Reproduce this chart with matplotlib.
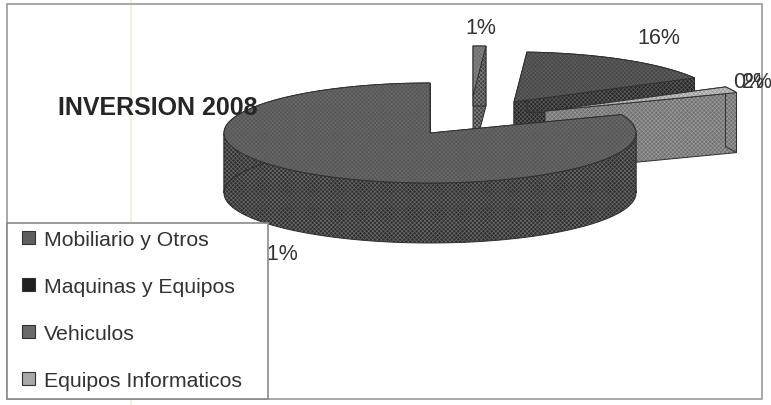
#!/usr/bin/env python3
"""Exploded pseudo-3D pie, INVERSION 2008 (scanned look)."""

import numpy as np
import matplotlib
matplotlib.use('Agg')
import matplotlib.pyplot as plt
from matplotlib.patches import Patch, Polygon, Rectangle

plt.rcParams['font.family'] = ['Liberation Sans', 'DejaVu Sans']
plt.rcParams['hatch.linewidth'] = 0.5

TITLE = 'INVERSION 2008'

# clockwise from twelve o'clock
slice_names = ['Mobiliario y Otros', 'Maquinas y Equipos', 'Equipos Informaticos', 'Vehiculos']
slice_values = [1, 16, 2, 81]

legend_order = ['Mobiliario y Otros', 'Maquinas y Equipos', 'Vehiculos', 'Equipos Informaticos']

# look of each slice: top colour, wall colour, hatch colour
top_colors = ['#6e6e6e', '#484848', '#c4c4c4', '#565656']
wall_colors = ['#404040', '#262626', '#707070', '#2e2e2e']
hatch_colors = ['#848484', '#5e5e5e', '#9a9a9a', '#6a6a6a']
legend_colors = {'Mobiliario y Otros': '#5f5f5f', 'Maquinas y Equipos': '#1f1f1f',
                 'Vehiculos': '#6a6a6a', 'Equipos Informaticos': '#a8a8a8'}

# exploded apex of each slice, in pixels
centers = [(473, 97), (514, 103), (545, 112), (430, 134)]
RX, RY, DEPTH = 206, 50, 60


def slice_arc(center, a0, a1, n=120):
    ang = np.radians(np.linspace(a0, a1, n))
    return np.column_stack([center[0] + RX * np.cos(ang), center[1] - RY * np.sin(ang)])


def face(ax, pts, fc, hc, z):
    ax.add_patch(Polygon(pts, closed=True, facecolor=fc, edgecolor=hc, hatch='xxxxxxxx',
                         linewidth=0, zorder=z))
    ax.add_patch(Polygon(pts, closed=True, fill=False, edgecolor='#303030', linewidth=0.7,
                         zorder=z))


fig = plt.figure(figsize=(7.71, 4.06), dpi=100)
ax = fig.add_axes([0, 0, 1, 1])
ax.set_xlim(0, 771)
ax.set_ylim(406, 0)
ax.axis('off')

# chart frame, plus the faint crease of the scan
ax.add_patch(Rectangle((7, 5), 755, 395, fill=False, edgecolor='#9a9a9a', linewidth=1.2, zorder=1))
ax.plot([131, 131], [0, 406], color='#f1f5d8', linewidth=1.5, zorder=0)

start = 90.0
shift = np.array([0, DEPTH])
for i, val in enumerate(slice_values):
    end = start - val * 3.6
    z = 2 + i
    c = np.array(centers[i], dtype=float)
    arc = slice_arc(c, start, end)
    # walls first, the top goes over them
    face(ax, [c, arc[0], arc[0] + shift, c + shift], wall_colors[i], hatch_colors[i], z)
    face(ax, [c, arc[-1], arc[-1] + shift, c + shift], wall_colors[i], hatch_colors[i], z)
    # outer wall in pieces split at the ellipse extremes, so no polygon crosses itself
    cuts = [a for a in (0, -180) if end < a < start]
    edges = [start] + cuts + [end]
    for a0, a1 in zip(edges[:-1], edges[1:]):
        piece = slice_arc(c, a0, a1)
        face(ax, np.vstack([piece, (piece + shift)[::-1]]), wall_colors[i], hatch_colors[i], z)
    face(ax, np.vstack([c, arc]), top_colors[i], hatch_colors[i], z)
    start = end

# labels
ax.text(481, 28, '1%', fontsize=15.5, color='#333333', ha='center', va='center', zorder=8)
ax.text(659, 38, '16%', fontsize=15.5, color='#333333', ha='center', va='center', zorder=8)
ax.text(749, 83, '0%', fontsize=15.5, color='#333333', ha='center', va='center', zorder=8)
ax.text(757, 83, '2%', fontsize=15.5, color='#333333', ha='center', va='center', zorder=8)
ax.text(298, 254, '81%', fontsize=15.5, color='#333333', ha='right', va='center', zorder=8)
ax.text(58, 108, TITLE, fontsize=18, fontweight='bold', color='#262626', ha='left',
        va='center', zorder=9)

# legend box sits over the 81% label, as in the original
ax.add_patch(Rectangle((7, 224), 261, 176, facecolor='white', edgecolor='#8a8a8a',
                       linewidth=1.2, zorder=10))
handles = [Patch(facecolor=legend_colors[n], edgecolor='#333333', linewidth=0.8) for n in legend_order]
leg = ax.legend(handles, legend_order, loc='upper left', bbox_to_anchor=(7 / 771, 1 - 216 / 406),
                borderaxespad=0, fontsize=15.3, labelspacing=1.32, handlelength=0.62,
                handleheight=0.62, handletextpad=0.42, borderpad=0.7, frameon=False,
                labelcolor='#333333')
leg.set_zorder(11)

fig.savefig('out.png', dpi=100)
